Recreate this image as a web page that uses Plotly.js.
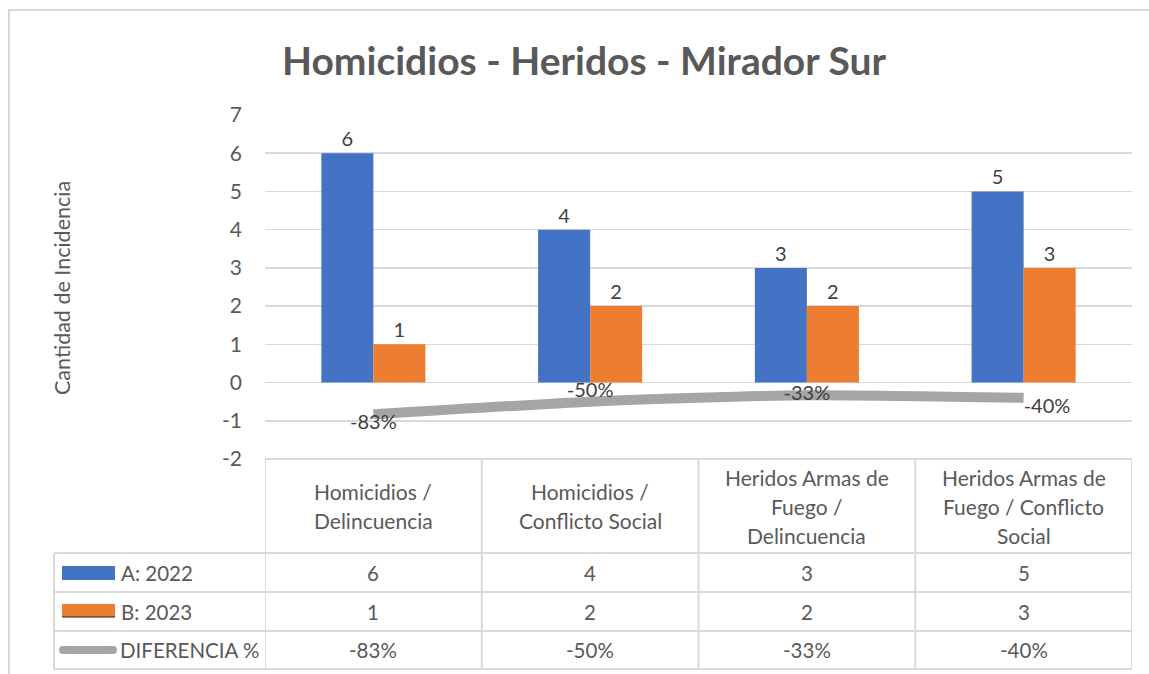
<!DOCTYPE html>
<html>
<head>
<meta charset="utf-8">
<script src="https://cdn.plot.ly/plotly-3.0.1.min.js"></script>
<style>html,body{margin:0;padding:0;background:#fff;}#chart{width:1149px;height:674px;}</style>
</head>
<body>
<div id="chart"></div>
<script>
// ---- data ----
const categories = [
  "Homicidios /<br>Delincuencia",
  "Homicidios /<br>Conflicto Social",
  "Heridos Armas de<br>Fuego /<br>Delincuencia",
  "Heridos Armas de<br>Fuego / Conflicto<br>Social"
];
const seriesNames = ["A: 2022", "B: 2023", "DIFERENCIA %"];
const values2022 = [6, 4, 3, 5];
const values2023 = [1, 2, 2, 3];
const diferencia = [-0.83, -0.50, -0.33, -0.40];
const yTicks = [-2, -1, 0, 1, 2, 3, 4, 5, 6, 7];

// ---- layout helpers (pixel geometry) ----
const W = 1149, H = 674, L = 265, R = 1132, T = 115, B = 459;
const px = x => (x - L) / (R - L);
const py = y => (B - y) / (B - T);
const grid = '#d9d9d9';
const txt = '#595959';
const FONT = 'Lato, "Open Sans", sans-serif';
const FS = 20.5;

const blue = '#4472C4', orange = '#ED7D31', gray = '#A5A5A5';

const traces = [
  {type: 'bar', name: seriesNames[0], x: categories, y: values2022,
   marker: {color: blue}, text: values2022.map(String), textposition: 'outside',
   textfont: {size: 20, color: '#404040', family: FONT}, cliponaxis: false},
  {type: 'bar', name: seriesNames[1], x: categories, y: values2023,
   marker: {color: orange}, text: values2023.map(String), textposition: 'outside',
   textfont: {size: 20, color: '#404040', family: FONT}, cliponaxis: false},
  {type: 'scatter', mode: 'lines+text', name: seriesNames[2], x: categories, y: diferencia,
   line: {color: gray, width: 10, shape: 'spline', smoothing: 0.6},
   texttemplate: '%{y:.0%}',
   textposition: ['bottom center', 'top center', 'middle center', 'bottom right'],
   textfont: {size: 20, color: '#404040', family: FONT}, cliponaxis: false}
];

const shapes = [];
// outer chart border
shapes.push({type: 'rect', xref: 'paper', yref: 'paper', x0: px(9), x1: px(1170), y0: py(10), y1: py(700),
  line: {color: grid, width: 2}, layer: 'below'});
// table horizontal lines
shapes.push({type: 'line', xref: 'paper', yref: 'paper', x0: px(L), x1: px(R), y0: py(459), y1: py(459), line: {color: grid, width: 2}});
[553, 592, 631, 669].forEach(y => shapes.push({type: 'line', xref: 'paper', yref: 'paper', x0: px(54), x1: px(R), y0: py(y), y1: py(y), line: {color: grid, width: 2}}));
// vertical lines
for (let i = 0; i <= categories.length; i++) {
  shapes.push({type: 'line', xref: 'x', yref: 'paper', x0: i - 0.5, x1: i - 0.5, y0: py(459), y1: py(669), line: {color: grid, width: 2}});
}
shapes.push({type: 'line', xref: 'paper', yref: 'paper', x0: px(54), x1: px(54), y0: py(553), y1: py(669), line: {color: grid, width: 2}});
// legend keys
shapes.push({type: 'rect', xref: 'paper', yref: 'paper', x0: px(62), x1: px(115), y0: py(566), y1: py(580), fillcolor: blue, line: {width: 0}});
shapes.push({type: 'rect', xref: 'paper', yref: 'paper', x0: px(62), x1: px(115), y0: py(604), y1: py(617), fillcolor: orange, line: {width: 0}});
shapes.push({type: 'line', xref: 'paper', yref: 'paper', x0: px(62), x1: px(115), y0: py(617), y1: py(617), line: {color: '#222', width: 1}});
shapes.push({type: 'line', xref: 'paper', yref: 'paper', x0: px(63), x1: px(113), y0: py(650), y1: py(650), line: {color: gray, width: 8}});
shapes.push({type: 'circle', xref: 'paper', yref: 'paper', x0: px(59), x1: px(67), y0: py(646), y1: py(654), fillcolor: gray, line: {width: 0}});
shapes.push({type: 'circle', xref: 'paper', yref: 'paper', x0: px(109), x1: px(117), y0: py(646), y1: py(654), fillcolor: gray, line: {width: 0}});

const annotations = [];
// y-axis title
annotations.push({xref: 'paper', yref: 'paper', x: px(62), y: py(288), text: 'Cantidad de Incidencia',
  textangle: -90, showarrow: false, font: {size: 21.5, color: txt, family: FONT}, xanchor: 'center', yanchor: 'middle'});
// category header labels (line by line)
const lineGap = 29;
categories.forEach((c, i) => {
  const lines = c.split('<br>');
  const mid = 506;
  lines.forEach((ln, k) => {
    const yy = mid + (k - (lines.length - 1) / 2) * lineGap;
    annotations.push({xref: 'x', yref: 'paper', x: c, y: py(yy), text: ln, showarrow: false,
      font: {size: 21, color: txt, family: FONT}, xanchor: 'center', yanchor: 'middle'});
  });
});
// data rows
const rowCenters = [572.5, 611.5, 650];
const rowValues = [values2022.map(String), values2023.map(String), diferencia.map(v => Math.round(v * 100) + '%')];
rowValues.forEach((vals, r) => {
  annotations.push({xref: 'paper', yref: 'paper', x: px(r === 2 ? 118 : 119), y: py(rowCenters[r]), text: seriesNames[r],
    showarrow: false, font: {size: FS, color: txt, family: FONT}, xanchor: 'left', yanchor: 'middle'});
  vals.forEach((v, i) => {
    annotations.push({xref: 'x', yref: 'paper', x: categories[i], y: py(rowCenters[r]), text: v, showarrow: false,
      font: {size: FS, color: txt, family: FONT}, xanchor: 'center', yanchor: 'middle'});
  });
});

const layout = {
  width: W, height: H,
  margin: {l: L, r: W - R, t: T, b: H - B, pad: 0},
  paper_bgcolor: '#fff', plot_bgcolor: '#fff',
  title: {text: 'Homicidios - Heridos - Mirador Sur', x: 584 / W, xref: 'container', xanchor: 'center',
    y: 1 - 61 / H, yref: 'container', yanchor: 'middle',
    font: {size: 39, color: txt, family: FONT, weight: 'bold'}},
  showlegend: false,
  barmode: 'group', bargap: 0.52, bargroupgap: 0,
  xaxis: {type: 'category', range: [-0.5, 3.5], showticklabels: false, showgrid: false, zeroline: false,
    showline: false, ticks: '', fixedrange: true},
  yaxis: {range: [-2, 7], tickvals: yTicks, ticktext: yTicks.map(String), showgrid: true, gridcolor: grid, gridwidth: 1.5,
    zeroline: true, zerolinecolor: grid, zerolinewidth: 1.5, showline: false, ticks: '',
    ticklabelstandoff: 22, tickfont: {size: 21, color: txt, family: FONT}, fixedrange: true},
  shapes: shapes,
  annotations: annotations,
  font: {family: FONT, color: txt}
};

Plotly.newPlot('chart', traces, layout, {staticPlot: true, displayModeBar: false});
</script>
</body>
</html>
